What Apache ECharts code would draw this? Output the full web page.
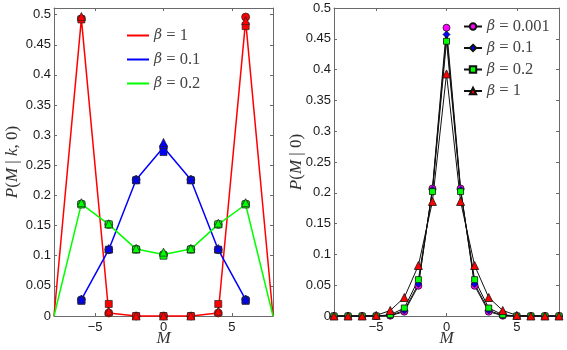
<!DOCTYPE html>
<html>
<head>
<meta charset="utf-8">
<script src="https://cdn.jsdelivr.net/npm/echarts@6/dist/echarts.min.js"></script>
<style>
  html, body { margin:0; padding:0; background:#fff; }
  #chart { width:567px; height:350px; }
</style>
</head>
<body>
<div id="chart"></div>
<script>
// ---- data ----
var xTicks = [-5, 0, 5];
var yTicks = [0, 0.05, 0.1, 0.15, 0.2, 0.25, 0.3, 0.35, 0.4, 0.45, 0.5];

// left panel: P(M|k,0)
var lineX = [-8, -6, -4, -2, 0, 2, 4, 6, 8];
var markX = [-6, -4, -2, 0, 2, 4, 6];
var redLine   = [0, 0.493, 0.005, 0, 0, 0, 0.005, 0.49, 0];
var greenLine = [0, 0.186, 0.152, 0.111, 0.102, 0.111, 0.152, 0.185, 0];
var blueLine  = [0.027, 0.11, 0.226, 0.28, 0.226, 0.11, 0.027];   // on markX
var redCircle   = [0.493, 0.005, 0, 0, 0, 0.005, 0.496];
var redSquare   = [0.492, 0.02, 0, 0, 0, 0.02, 0.481];
var redTri      = [0.497, 0.008, 0, 0, 0, 0.008, 0.49];
var blueCircle  = [0.027, 0.11, 0.226, 0.28, 0.226, 0.11, 0.027];
var blueSquare  = [0.025, 0.11, 0.225, 0.272, 0.225, 0.11, 0.025];
var blueTri     = [0.028, 0.112, 0.227, 0.288, 0.227, 0.112, 0.028];
var greenCircle = [0.186, 0.152, 0.111, 0.102, 0.111, 0.152, 0.186];
var greenSquare = [0.185, 0.152, 0.11, 0.1, 0.11, 0.152, 0.185];
var greenTri    = [0.188, 0.153, 0.112, 0.106, 0.112, 0.154, 0.188];

// right panel: P(M|0)
var mX = [-8, -7, -6, -5, -4, -3, -2, -1, 0, 1, 2, 3, 4, 5, 6, 7, 8];
var b0001 = [0, 0, 0, 0, 0.0005, 0.007, 0.049, 0.207, 0.468, 0.207, 0.049, 0.007, 0.0005, 0, 0, 0, 0];
var b01   = [0, 0, 0, 0, 0.001, 0.009, 0.052, 0.205, 0.457, 0.205, 0.052, 0.009, 0.001, 0, 0, 0, 0];
var b02   = [0, 0, 0, 0, 0.002, 0.013, 0.059, 0.202, 0.446, 0.202, 0.059, 0.013, 0.002, 0, 0, 0, 0];
var b1    = [0, 0, 0, 0.001, 0.009, 0.03, 0.082, 0.186, 0.393, 0.186, 0.082, 0.03, 0.009, 0.001, 0, 0, 0];

function pairs(xs, ys) { return ys.map(function (y, i) { return [xs[i], y]; }); }

var axisCol = '#6a6a6a';
var tickFont = { fontFamily: 'Liberation Sans', fontSize: 13, color: '#1a1a1a' };

function xAx(grid, top, name) {
  return {
    type: 'value', gridIndex: grid, min: -8, max: 8, position: top ? 'top' : 'bottom',
    axisLine: { show: true, onZero: false, lineStyle: { color: axisCol, width: 1 } },
    axisTick: { show: true, inside: true, length: 3, customValues: xTicks, lineStyle: { color: axisCol } },
    axisLabel: top ? { show: false } : Object.assign({
      customValues: xTicks, margin: 5,
      formatter: function (v) { return v < 0 ? '\u2212' + (-v) : String(v); }
    }, tickFont),
    splitLine: { show: false },
    name: top ? '' : name, nameLocation: 'middle', nameGap: 14, nameMoveOverlap: false,
    nameTextStyle: { fontFamily: 'Liberation Serif', fontStyle: 'italic', fontSize: 17, color: '#333' }
  };
}
function yAx(grid, right, max, name, gap) {
  return {
    type: 'value', gridIndex: grid, min: 0, max: max, position: right ? 'right' : 'left',
    axisLine: { show: true, onZero: false, lineStyle: { color: axisCol, width: 1 } },
    axisTick: { show: true, inside: true, length: 3, customValues: yTicks, lineStyle: { color: axisCol } },
    axisLabel: right ? { show: false } : Object.assign({
      customValues: yTicks, margin: 3,
      formatter: function (v) { return String(+v.toFixed(2)); }
    }, tickFont),
    splitLine: { show: false },
    name: right ? '' : name, nameLocation: 'middle', nameGap: gap, nameRotate: 90, nameMoveOverlap: false,
    nameTextStyle: {
      fontSize: 16, color: '#333', fontFamily: 'Liberation Serif',
      rich: {
        i: { fontFamily: 'Liberation Serif', fontStyle: 'italic', fontSize: 17, color: '#333' },
        u: { fontFamily: 'Liberation Serif', fontSize: 17, color: '#333' }
      }
    }
  };
}

function lineS(name, x, y, color) {
  return { name: name, type: 'line', xAxisIndex: 0, yAxisIndex: 0, data: pairs(x, y),
    symbol: 'none', lineStyle: { color: color, width: 1.5 }, itemStyle: { color: color },
    clip: false, z: 2 };
}
function markS(x, y, color, sym, size) {
  return { name: 'm', type: 'scatter', xAxisIndex: 0, yAxisIndex: 0, data: pairs(x, y),
    symbol: sym, symbolSize: size, clip: false, z: 3,
    itemStyle: { color: color, borderColor: '#222', borderWidth: 0.7, opacity: 1 } };
}
function rightS(name, y, color, sym, size) {
  return { name: name, type: 'line', xAxisIndex: 2, yAxisIndex: 2, data: pairs(mX, y),
    symbol: sym, symbolSize: size, showAllSymbol: true, clip: false,
    lineStyle: { color: '#111', width: 1 },
    itemStyle: { color: color, borderColor: '#111', borderWidth: 0.8 } };
}

var legendFmt = function (name) {
  return '{g|\u03b2}{n| = ' + name.split('= ')[1] + '}';
};
var legendRich = {
  g: { fontFamily: 'DejaVu Serif', fontStyle: 'italic', fontSize: 14, color: '#444', lineHeight: 14 },
  n: { fontFamily: 'Liberation Serif', fontSize: 16.5, color: '#444', lineHeight: 14 }
};

var chart = echarts.init(document.getElementById('chart'), null, { renderer: 'canvas' });
chart.setOption({
  animation: false,
  backgroundColor: '#fff',
  grid: [
    { left: 54, right: 294, top: 8, bottom: 34, outerBoundsMode: 'none', containLabel: false },
    { left: 334, right: 8, top: 8, bottom: 34, outerBoundsMode: 'none', containLabel: false }
  ],
  xAxis: [xAx(0, false, 'M'), xAx(0, true), xAx(1, false, 'M'), xAx(1, true)],
  yAxis: [
    yAx(0, false, 0.511, '{i|P}{u|(}{i|M}{u| | }{i|k}{u|, 0)}', 33),
    yAx(0, true, 0.511),
    yAx(1, false, 0.5, '{i|P}{u|(}{i|M}{u| | 0)}', 29),
    yAx(1, true, 0.5)
  ],
  legend: [
    { data: ['\u03b2 = 1', '\u03b2 = 0.1', '\u03b2 = 0.2'], orient: 'vertical', left: 126, top: 27,
      padding: 0, itemWidth: 22, itemHeight: 14, itemGap: 7, formatter: legendFmt,
      itemStyle: { opacity: 0 },
      textStyle: { rich: legendRich } },
    { data: ['\u03b2 = 0.001 ', '\u03b2 = 0.1 ', '\u03b2 = 0.2 ', '\u03b2 = 1 '], orient: 'vertical', left: 463, top: 18,
      padding: 0, itemWidth: 18, itemHeight: 8, itemGap: 4.5, formatter: legendFmt,
      textStyle: { rich: legendRich } }
  ],
  series: [
    lineS('\u03b2 = 1', lineX, redLine, '#ff0000'),
    lineS('\u03b2 = 0.1', markX, blueLine, '#0000ff'),
    lineS('\u03b2 = 0.2', lineX, greenLine, '#00ff00'),
    markS(markX, redCircle, '#ff0000', 'circle', 8),
    markS(markX, redSquare, '#ff0000', 'rect', 7),
    markS(markX, redTri, '#ff0000', 'triangle', 8),
    markS(markX, blueCircle, '#0000ff', 'circle', 8),
    markS(markX, blueSquare, '#0000ff', 'rect', 7),
    markS(markX, blueTri, '#0000ff', 'triangle', 8),
    markS(markX, greenCircle, '#00ff00', 'circle', 8),
    markS(markX, greenSquare, '#00ff00', 'rect', 7),
    markS(markX, greenTri, '#00ff00', 'triangle', 8),
    rightS('\u03b2 = 0.001 ', b0001, '#ff00ff', 'circle', 7),
    rightS('\u03b2 = 0.1 ', b01, '#0000ff', 'diamond', 7),
    rightS('\u03b2 = 0.2 ', b02, '#00ff00', 'rect', 6),
    rightS('\u03b2 = 1 ', b1, '#ff0000', 'triangle', 8)
  ]
});
</script>
</body>
</html>
